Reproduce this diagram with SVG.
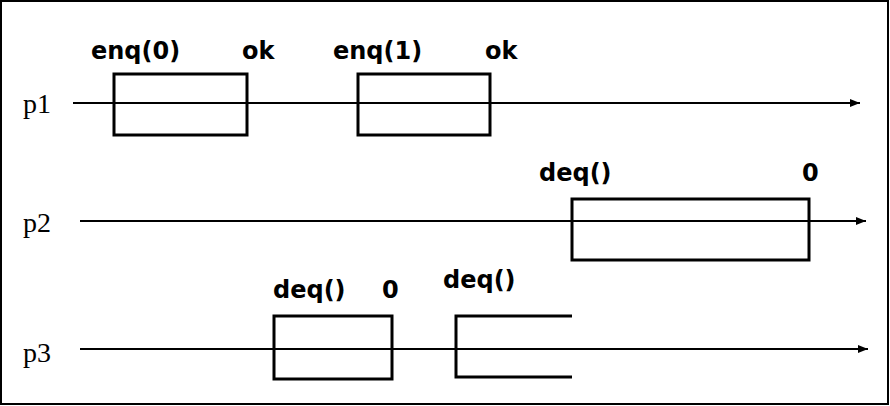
<svg xmlns="http://www.w3.org/2000/svg" width="890" height="406" viewBox="0 0 890 406">
<style>
.lbl{font-family:"DejaVu Sans","Liberation Sans",sans-serif;font-weight:bold;font-size:24px;fill:#000}
.proc{font-family:"Liberation Serif","Times New Roman",serif;font-size:28px;fill:#000}
.tl{stroke:#000;stroke-width:2;fill:none}
.box{stroke:#000;stroke-width:3;fill:none}
</style>
<defs>
<marker id="ah" markerWidth="10" markerHeight="8" refX="10" refY="4" orient="auto" markerUnits="userSpaceOnUse">
<path d="M0,0 L10,4 L0,8 Z" fill="#000"/>
</marker>
</defs>
<rect x="1" y="1" width="887" height="403" fill="#fff" stroke="#000" stroke-width="2"/>
<g id="connectors">
<line class="tl" x1="73" y1="103" x2="860" y2="103" marker-end="url(#ah)"/>
<line class="tl" x1="80" y1="221" x2="866" y2="221" marker-end="url(#ah)"/>
<line class="tl" x1="80" y1="349" x2="868" y2="349" marker-end="url(#ah)"/>
</g>
<g id="p1"><text class="proc" x="23" y="113">p1</text></g>
<g id="p2"><text class="proc" x="23" y="232">p2</text></g>
<g id="p3"><text class="proc" x="23" y="362">p3</text></g>
<g id="enq0">
<rect class="box" x="114" y="74" width="133" height="61"/>
<text class="lbl" x="91" y="59">enq(0)</text>
<text class="lbl" x="242" y="59">ok</text>
</g>
<g id="enq1">
<rect class="box" x="358" y="74" width="132" height="61"/>
<text class="lbl" x="333" y="59">enq(1)</text>
<text class="lbl" x="485" y="59">ok</text>
</g>
<g id="p2deq">
<rect class="box" x="572" y="199" width="237" height="61"/>
<text class="lbl" x="539" y="181">deq()</text>
<text class="lbl" x="802" y="181">0</text>
</g>
<g id="p3deq1">
<rect class="box" x="274" y="316" width="118" height="63"/>
<text class="lbl" x="273" y="298">deq()</text>
<text class="lbl" x="382" y="298">0</text>
</g>
<g id="p3deq2">
<path class="box" d="M572,316 H456 V377 H572"/>
<text class="lbl" x="443" y="288">deq()</text>
</g>
</svg>
